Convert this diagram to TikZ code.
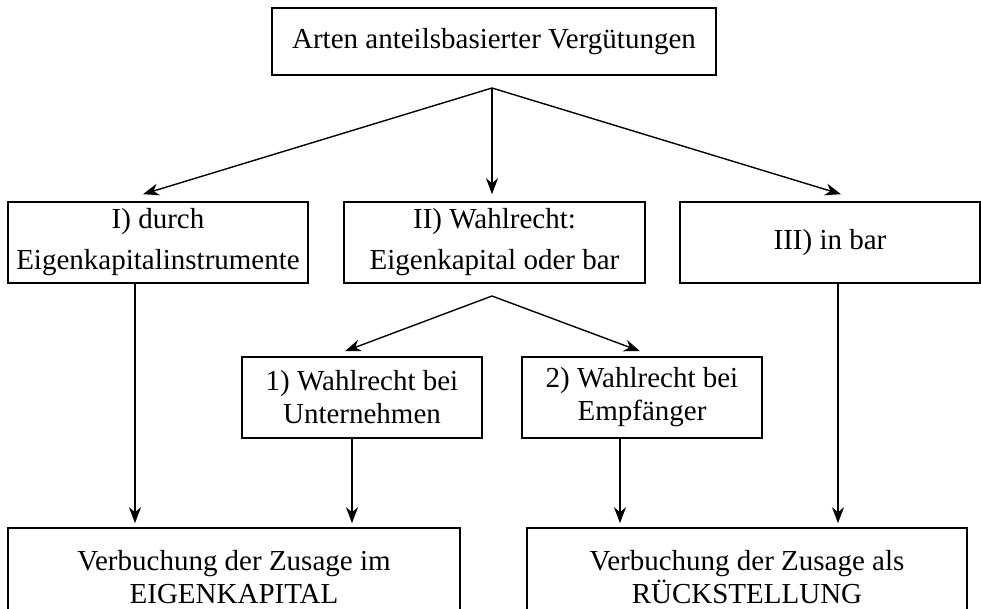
\documentclass[tikz,border=0pt]{standalone}
\usepackage{fontspec}
\setmainfont{Liberation Serif}
\usetikzlibrary{arrows.meta,calc}

\begin{document}
\begin{tikzpicture}[x=0.5pt, y=-0.5pt,
        box/.style={draw, thick, rectangle, align=center, inner sep=0pt,
            font=\fontsize{14.5}{20.5}\selectfont},
        subbox/.style={box, font=\fontsize{14.5}{16.5}\selectfont},
        arr/.style={-{Stealth[length=8pt,width=6pt,inset=2.5pt]}, line width=0.7pt}]
                \clip (0,0) rectangle (981,609);

                % Draw the top box
                \node[box, minimum width=222pt, minimum height=33.5pt] (top) at (494,41.5) {Arten anteilsbasierter Verg\"utungen};
                \coordinate (fan) at (492,88);

                % Draw the three kinds
                \node[box, minimum width=150pt, minimum height=40.5pt] (b1) at (158,242.5) {I) durch\\Eigenkapitalinstrumente};
                \node[box, minimum width=150.5pt, minimum height=40.5pt] (b2) at (494.5,242.5) {II) Wahlrecht:\\Eigenkapital oder bar};
                \node[box, minimum width=150pt, minimum height=40.5pt] (b3) at (830,242.5) {III) in bar};
                \coordinate (split) at (492,296);

                % Draw the two options of II
                \node[subbox, minimum width=120pt, minimum height=40.5pt] (s1) at (362,397.5) {1) Wahlrecht bei\\Unternehmen};
                \node[subbox, minimum width=120pt, minimum height=40.5pt] (s2) at (642,397.5) {2) Wahlrecht bei\\Empf\"anger};

                % Draw the bottom boxes
                \node[subbox, minimum width=226pt, minimum height=49pt] (bl) at (234,577) {Verbuchung der Zusage im\\EIGENKAPITAL};
                \node[subbox, minimum width=220pt, minimum height=49pt] (br) at (747,577) {Verbuchung der Zusage als\\R\"UCKSTELLUNG};

                % Draw arrows from the top box
                \draw[arr] (fan) -- ([xshift=-7.5pt,yshift=3.5pt]b1.north);
                \draw[arr] (fan) -- ($(fan |- b2.north)+(0,-7)$);
                \draw[arr] (fan) -- ([xshift=5.5pt,yshift=3.5pt]b3.north);

                % Draw arrows from II
                \draw[arr] (split) -- ([xshift=-8.5pt,yshift=2.5pt]s1.north);
                \draw[arr] (split) -- ([xshift=-1pt,yshift=2.5pt]s2.north);

                % Draw arrows down to the bottom boxes
                \draw[arr] ([xshift=-11.5pt]b1.south) -- ([xshift=-49.5pt,yshift=2pt]bl.north);
                \draw[arr] ([xshift=-5pt]s1.south) -- ([xshift=59pt,yshift=2pt]bl.north);
                \draw[arr] ([xshift=-11pt]s2.south) -- ([xshift=-63.5pt,yshift=2pt]br.north);
                \draw[arr] ([xshift=4pt]b3.south) -- ([xshift=45.5pt,yshift=2pt]br.north);
\end{tikzpicture}
\end{document}
